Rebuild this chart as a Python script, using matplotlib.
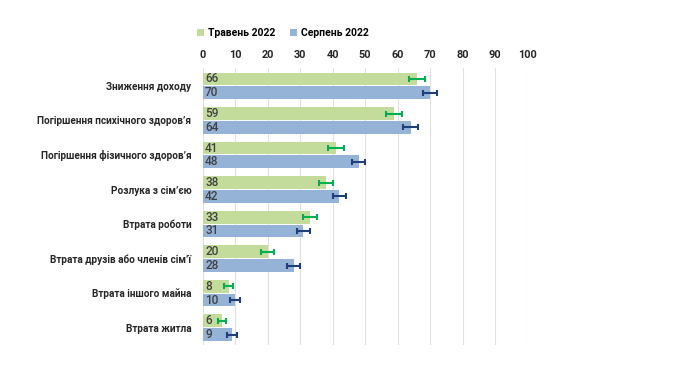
import matplotlib.pyplot as plt
import numpy as np

categories = ['Зниження доходу', 'Погіршення психічного здоров’я',
              'Погіршення фізичного здоров’я', 'Розлука з сім’єю',
              'Втрата роботи', 'Втрата друзів або членів сім’ї',
              'Втрата іншого майна', 'Втрата житла']
may = [66, 59, 41, 38, 33, 20, 8, 6]
aug = [70, 64, 48, 42, 31, 28, 10, 9]
may_err = [2.4, 2.4, 2.4, 2.2, 2.2, 2.0, 1.4, 1.3]
aug_err = [2.2, 2.2, 2.0, 2.0, 2.0, 2.0, 1.5, 1.6]
series = ['Травень 2022', 'Серпень 2022']
xticks = list(range(0, 101, 10))

green = '#c3dc9b'
blue = '#95b3d7'
green_err = '#00b050'
blue_err = '#1f3f7a'
text_col = '#262626'

plt.rcParams['font.family'] = ['Roboto', 'DejaVu Sans']

fig = plt.figure(figsize=(6.9, 3.67), dpi=100)
ax = fig.add_axes([0.2935, 0.06, 0.471, 0.755])

y = np.arange(len(categories))
h = 0.37
off = 0.2
ax.barh(y - off, may, height=h, color=green, label=series[0], zorder=2)
ax.barh(y + off, aug, height=h, color=blue, label=series[1], zorder=2)
ax.errorbar(may, y - off, xerr=may_err, fmt='none', ecolor=green_err,
            elinewidth=1.5, capsize=2.5, capthick=1.5, zorder=3)
ax.errorbar(aug, y + off, xerr=aug_err, fmt='none', ecolor=blue_err,
            elinewidth=1.5, capsize=2.5, capthick=1.5, zorder=3)

for yi, v in zip(y - off, may):
    ax.text(0.8, yi, str(v), va='center', ha='left', fontsize=8.5,
            fontweight='medium', color='#404040', zorder=4)
for yi, v in zip(y + off, aug):
    ax.text(0.8, yi, str(v), va='center', ha='left', fontsize=8.5,
            fontweight='medium', color='#404040', zorder=4)

ax.set_xlim(0, 100)
ax.set_ylim(7.5, -0.52)
ax.set_xticks(xticks)
ax.xaxis.tick_top()
ax.tick_params(axis='x', length=0, pad=6, labelsize=7.8, labelcolor=text_col)
for lab in ax.get_xticklabels():
    lab.set_fontweight('bold')
ax.set_yticks(y)
ax.set_yticklabels(categories, fontsize=7.2, fontweight='bold', color=text_col)
ax.tick_params(axis='y', length=0, pad=8)
ax.grid(axis='x', color='#e0e0e0', lw=0.8, zorder=0)
for s in ax.spines.values():
    s.set_visible(False)

fig.legend(loc='center', bbox_to_anchor=(0.41, 0.91), ncol=2, frameon=False,
           handlelength=0.7, handleheight=0.7, handletextpad=0.4,
           columnspacing=1.4, prop={'weight': 'bold', 'size': 7.5})

fig.savefig('out.png', dpi=100)
